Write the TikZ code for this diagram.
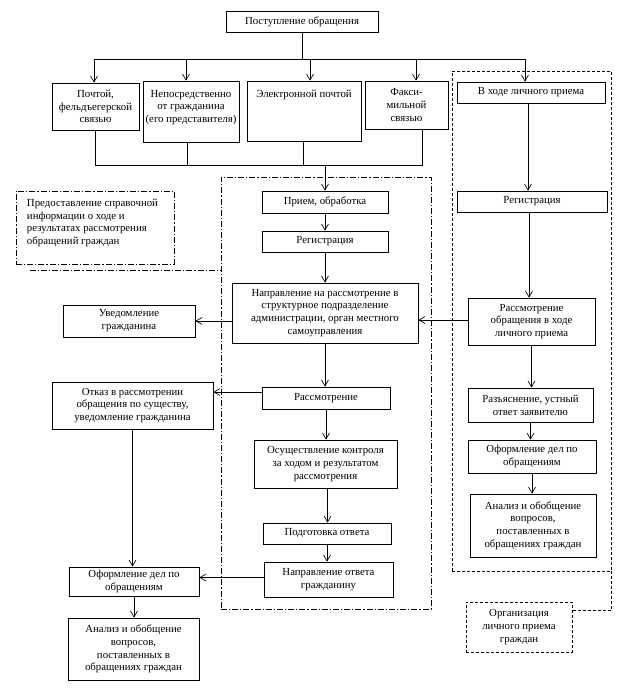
\documentclass[tikz,border=0pt]{standalone}
\usepackage{fontspec}
\setmainfont{Liberation Serif}
\usetikzlibrary{arrows.meta,calc}
\newcommand\myfs{\fontsize{10.8}{12.8}\selectfont}
\begin{document}
\begin{tikzpicture}[x=1pt,y=-1pt,
  box/.style={draw,line width=0.75pt,inner sep=1pt,align=center,font=\myfs},
  arr/.style={-{Straight Barb[length=6pt,width=7pt]},line width=0.65pt},
  ln/.style={line width=0.65pt},
  dd/.style={line width=0.65pt,dash pattern=on 6pt off 2pt on 1.2pt off 2pt},
  ds/.style={line width=0.65pt,dash pattern=on 3pt off 2pt}]
\useasboundingbox[fill=white] (0,0) rectangle (628,698);

% group frames
\node[draw,dd,minimum width=210pt,minimum height=432pt,inner sep=0pt] (mbox) at (326,393) {};
\node[draw,ds,minimum width=159pt,minimum height=500pt,inner sep=0pt] (rbox) at (531.5,321) {};

% top row
\node[box,minimum width=152pt,minimum height=21pt] (top) at (302,21.5) {Поступление обращения};
\node[box,minimum width=87pt,minimum height=47pt] (pocht) at (95.5,106.5) {Почтой,\\фельдъегерской\\связью};
\node[box,minimum width=96pt,minimum height=61pt,inner sep=0pt] (nepo) at (191,111.5)
  {\parbox[c][61pt][t]{96pt}{\centering\vspace*{9pt}Непосредственно\\от гражданина\\(его представителя)}};
\node[box,minimum width=114pt,minimum height=60pt,inner sep=0pt] (elec) at (304,111)
  {\parbox[c][60pt][t]{114pt}{\centering\vspace*{9pt}Электронной почтой}};
\node[box,minimum width=83pt,minimum height=48pt] (fax) at (406.5,105) {Факси-\\мильной\\связью};
\node[box,minimum width=148pt,minimum height=21pt] (vhode) at (531,92.5) {В ходе личного приема};

% left side
\node[draw,dd,minimum width=158pt,minimum height=73pt,inner sep=0pt,font=\myfs] (sprav) at (95,227.5)
  {\parbox[c][73pt][t]{158pt}{\raggedright\leftskip=11pt\vspace*{8pt}Предоставление справочной\\информации о ходе и\\результатах рассмотрения\\обращений граждан}};
\node[box,minimum width=132pt,minimum height=32pt] (uved) at (129,321) {Уведомление\\гражданина};
\node[box,minimum width=161pt,minimum height=47pt] (otkaz) at (132.5,405.5) {Отказ в рассмотрении\\обращения по существу,\\уведомление гражданина};
\node[box,minimum width=130pt,minimum height=29pt] (oformL) at (134,581.5) {Оформление дел по\\обращениям};
\node[box,minimum width=131pt,minimum height=62pt] (analizL) at (133.5,649) {Анализ и обобщение\\вопросов,\\поставленных в\\обращениях граждан};

% middle column
\node[box,minimum width=126pt,minimum height=22pt] (priem) at (325,202) {Прием, обработка};
\node[box,minimum width=126pt,minimum height=21pt] (regM) at (325,241.5) {Регистрация};
\node[box,minimum width=186pt,minimum height=60pt] (naprav) at (325,313) {Направление на рассмотрение в\\структурное подразделение\\администрации, орган местного\\самоуправления};
\node[box,minimum width=128pt,minimum height=22pt] (rassmM) at (326,398) {Рассмотрение};
\node[box,minimum width=143pt,minimum height=48pt] (osush) at (325.5,464) {Осуществление контроля\\за ходом и результатом\\рассмотрения};
\node[box,minimum width=128pt,minimum height=21pt] (podg) at (327,533.5) {Подготовка ответа};
\node[box,minimum width=129pt,minimum height=35pt] (napotv) at (328.5,579.5) {Направление ответа\\гражданину};

% right column
\node[box,minimum width=150pt,minimum height=21pt] (regR) at (532,201.5) {Регистрация};
\node[box,minimum width=127pt,minimum height=47pt] (rassmR) at (531.5,321.5) {Рассмотрение\\обращения в ходе\\личного приема};
\node[box,minimum width=125pt,minimum height=34pt] (razyas) at (530.5,405) {Разъяснение, устный\\ответ заявителю};
\node[box,minimum width=128pt,minimum height=33pt] (oformR) at (532,456.5) {Оформление дел по\\обращениям};
\node[box,minimum width=126pt,minimum height=63pt] (analizR) at (533,525.5) {Анализ и обобщение\\вопросов,\\поставленных в\\обращениях граждан};
\node[draw,ds,minimum width=106pt,minimum height=50pt,align=center,font=\myfs,inner sep=1pt] (org) at (519,627) {Организация\\личного приема\\граждан};

% distribution from top
\coordinate (hub) at ($(top.south)+(0,27)$);
\coordinate (aP) at ([xshift=-1.5pt]pocht.north);
\coordinate (aN) at ([xshift=-5pt]nepo.north);
\coordinate (aE) at ([xshift=6pt]elec.north);
\coordinate (aF) at ([xshift=9.5pt]fax.north);
\coordinate (aV) at ([xshift=-6pt]vhode.north);
\draw[ln] (top.south) -- (hub);
\draw[ln] (aP |- hub) -- (aV |- hub);
\foreach \a in {aP,aN,aE,aF,aV} \draw[arr] (\a |- hub) -- (\a);

% collection
\coordinate (low) at ($(pocht.south)+(0,35)$);
\coordinate (bP) at ([xshift=-0.5pt]pocht.south);
\coordinate (bN) at ([xshift=-4pt]nepo.south);
\coordinate (bE) at ([xshift=-1pt]elec.south);
\coordinate (bF) at ([xshift=15.5pt]fax.south);
\draw[ln] (bP) -- (bP |- low) -- (bF |- low) -- (bF);
\draw[ln] (bN) -- (bN |- low);
\draw[ln] (bE) -- (bE |- low);
\draw[arr] (priem.north |- low) -- (priem.north);

% middle chain
\draw[arr] (priem.south) -- (priem.south |- regM.north);
\draw[arr] (regM.south) -- (regM.south |- naprav.north);
\draw[arr] (naprav.south) -- (naprav.south |- rassmM.north);
\draw[arr] (rassmM.south) -- (rassmM.south |- osush.north);
\draw[arr] ([xshift=2pt]osush.south) -- ([xshift=2pt]osush.south |- podg.north);
\draw[arr] (podg.south) -- (podg.south |- napotv.north);
\draw[arr] (uved.east -| naprav.west) -- (uved.east);
\draw[arr] ([yshift=6pt]rassmM.west) -- ([yshift=6pt]rassmM.west -| otkaz.east);
\draw[arr] ([yshift=2pt]napotv.west) -- ([yshift=2pt]napotv.west -| oformL.east);

% left chain
\draw[arr] (otkaz.south) -- (otkaz.south |- oformL.north);
\draw[arr] (oformL.south) -- (oformL.south |- analizL.north);

% right chain
\draw[arr] ([xshift=-3pt]vhode.south) -- ([xshift=-3pt]vhode.south |- regR.north);
\draw[arr] ([xshift=-3pt]regR.south) -- ([xshift=-3pt]regR.south |- rassmR.north);
\draw[arr] ([yshift=1.5pt]rassmR.west) -- ([yshift=1.5pt]rassmR.west -| naprav.east);
\draw[arr] (rassmR.south) -- (rassmR.south |- razyas.north);
\draw[arr] (razyas.south) -- (razyas.south |- oformR.north);
\draw[arr] (oformR.south) -- (oformR.south |- analizR.north);

% dashed links
\coordinate (oc) at ($(org.north east)+(0,9)$);
\draw[ds] (rbox.south east) -- (rbox.south east |- oc) -- (oc);
\coordinate (sl) at ($(sprav.south west)+(14,6)$);
\draw[dd] (sl) -- (sl -| mbox.west);
\end{tikzpicture}
\end{document}
